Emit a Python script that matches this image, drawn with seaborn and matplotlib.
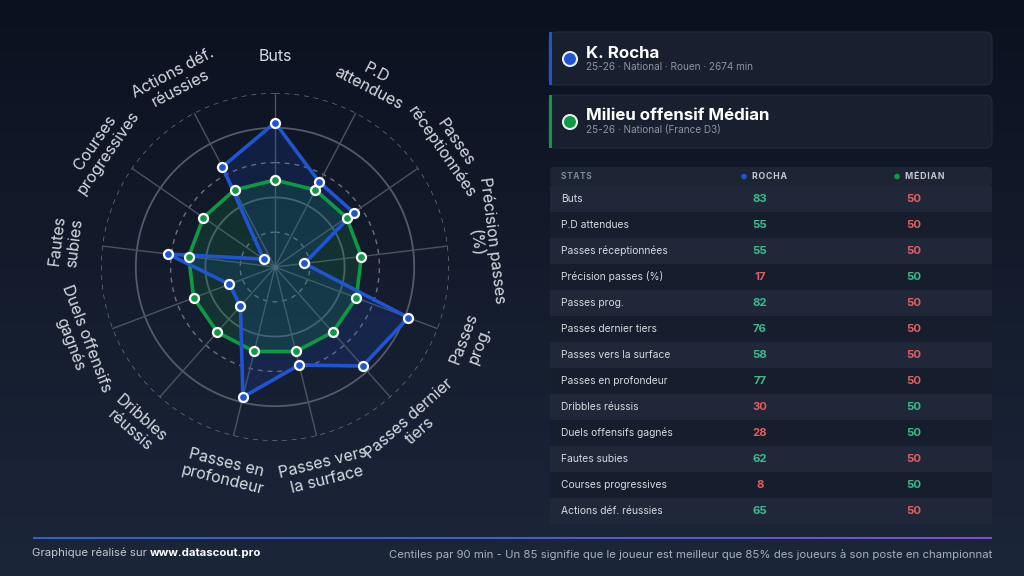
import numpy as np
import pandas as pd
import matplotlib
matplotlib.use("Agg")
import matplotlib.pyplot as plt
import seaborn as sns
from matplotlib.patches import FancyBboxPatch, Rectangle, Circle
from matplotlib.colors import LinearSegmentedColormap

# ---------------- data ----------------
categories = ["Buts", "P.D attendues", "Passes réceptionnées", "Précision passes (%)",
              "Passes prog.", "Passes dernier tiers", "Passes vers la surface",
              "Passes en profondeur", "Dribbles réussis", "Duels offensifs gagnés",
              "Fautes subies", "Courses progressives", "Actions déf. réussies"]
radar_labels = ["Buts", "P.D\nattendues", "Passes\nréceptionnées", "Précision passes\n(%)",
                "Passes\nprog.", "Passes dernier\ntiers", "Passes vers\nla surface",
                "Passes en\nprofondeur", "Dribbles\nréussis", "Duels offensifs\ngagnés",
                "Fautes\nsubies", "Courses\nprogressives", "Actions déf.\nréussies"]
rocha = [83, 55, 55, 17, 82, 76, 58, 77, 30, 28, 62, 8, 65]
median = [50, 50, 50, 50, 50, 50, 50, 50, 50, 50, 50, 50, 50]
ring_levels = [20, 40, 60, 80, 100]

player_name = "K. Rocha"
player_sub = "25-26 · National · Rouen · 2674 min"
median_name = "Milieu offensif Médian"
median_sub = "25-26 · National (France D3)"
col_headers = ["STATS", "ROCHA", "MÉDIAN"]
footer_left = "Graphique réalisé sur "
footer_link = "www.datascout.pro"
footer_right = "Centiles par 90 min - Un 85 signifie que le joueur est meilleur que 85% des joueurs à son poste en championnat"

# ---------------- style ----------------
sns.set_theme(style="dark")
plt.rcParams["font.family"] = ["Inter", "DejaVu Sans"]

BLUE = "#1f55d2"
GREEN = "#0e9a42"
GOOD = "#3dbb8a"
BAD = "#e0605f"
LABEL = "#d6dae1"


def spaced(s):
    return "\u200a".join(s)


W, H = 1024, 576
fig = plt.figure(figsize=(W / 100, H / 100), dpi=100)

bg = fig.add_axes([0, 0, 1, 1])
grad = np.linspace(0, 1, 256)[:, None]
bg_cmap = LinearSegmentedColormap.from_list("bg", ["#0b111f", "#141c2d", "#1c2639"])
bg.imshow(grad, extent=[0, W, H, 0], cmap=bg_cmap, aspect="auto", zorder=0)
bg.set_xlim(0, W)
bg.set_ylim(H, 0)
bg.axis("off")

# ---------------- radar ----------------
cx, cy, R = 275, 267, 174
ax = fig.add_axes([(cx - R) / W, 1 - (cy + R) / H, 2 * R / W, 2 * R / H], projection="polar")
ax.set_theta_zero_location("N")
ax.set_theta_direction(-1)
ax.set_axis_off()

n = len(categories)
theta = np.arange(n) * 2 * np.pi / n
tt = np.linspace(0, 2 * np.pi, 400)
for lvl in ring_levels:
    if lvl in (20, 60, 100):
        ax.plot(tt, np.full_like(tt, lvl), color="#6a7281", lw=1.0, ls=(0, (3.5, 3.5)), zorder=1)
    else:
        ax.plot(tt, np.full_like(tt, lvl), color="#525a6b", lw=1.3, zorder=1)
for th in theta:
    ax.plot([th, th], [0, 100], color="#4b5363", lw=1.0, zorder=1)
ax.plot([0], [0], "o", color="#5a6372", ms=3, zorder=2)

df = pd.DataFrame({"category": categories, "theta": theta, "rocha": rocha, "median": median})
closed = pd.concat([df, df.iloc[[0]].assign(theta=2 * np.pi)], ignore_index=True)

# fills
ax.fill(closed["theta"], closed["rocha"], color="#2050d0", alpha=0.17, zorder=3, lw=0)
ax.fill(closed["theta"], closed["median"], color="#18a34c", alpha=0.17, zorder=3, lw=0)
# lines
sns.lineplot(data=closed, x="theta", y="median", sort=False, estimator=None, ax=ax,
             color=GREEN, lw=2.6, zorder=4)
sns.lineplot(data=closed, x="theta", y="rocha", sort=False, estimator=None, ax=ax,
             color=BLUE, lw=2.6, zorder=6)
sns.scatterplot(data=df, x="theta", y="median", ax=ax, s=42, color=GREEN,
                edgecolor="white", linewidth=1.6, zorder=7, legend=False)
sns.scatterplot(data=df, x="theta", y="rocha", ax=ax, s=42, color=BLUE,
                edgecolor="white", linewidth=1.6, zorder=8, legend=False)
ax.set_ylim(0, 100)
ax.set_xlabel("")
ax.set_ylabel("")

for th, lab in zip(theta, radar_labels):
    deg = np.degrees(th)
    rot = 180 - deg if 90 < deg < 270 else -deg
    ax.text(th, 121, lab, rotation=rot, rotation_mode="anchor", ha="center", va="center",
            multialignment="center", fontsize=11.5, color=LABEL, clip_on=False,
            linespacing=1.15)

# ---------------- right panel ----------------
def card(y, color, name, sub):
    bg.add_patch(FancyBboxPatch((549, y), 443, 53, boxstyle="round,pad=0,rounding_size=7",
                                fc="#182030", ec="#232b3b", lw=0.8, zorder=2))
    bg.add_patch(Rectangle((549, y), 3, 53, fc=color, ec="none", zorder=3))
    bg.add_patch(Circle((570, y + 27), 7, fc=color, ec="#e8ebf0", lw=1.5, zorder=3))
    bg.text(586, y + 21, name, fontsize=12.2, fontweight="bold", color="white", va="center", zorder=4)
    bg.text(586, y + 35, sub, fontsize=7.2, color="#8c94a3", va="center", zorder=4)


card(32, BLUE, player_name, player_sub)
card(95, GREEN, median_name, median_sub)

# table
bg.add_patch(FancyBboxPatch((550, 167), 442, 19, boxstyle="round,pad=0,rounding_size=4",
                            fc="#1d2434", ec="none", zorder=2))
bg.text(561, 176.5, spaced(col_headers[0]), fontsize=6, fontweight="bold", color="#7f8898",
        va="center", zorder=4)
bg.add_patch(Circle((744, 176.5), 2.8, fc=BLUE, ec="none", zorder=4))
bg.text(752, 176.5, spaced(col_headers[1]), fontsize=6.3, fontweight="bold", color="#c4c9d2",
        va="center", zorder=4)
bg.add_patch(Circle((897, 176.5), 2.8, fc=GREEN, ec="none", zorder=4))
bg.text(905, 176.5, spaced(col_headers[2]), fontsize=6.3, fontweight="bold", color="#c4c9d2",
        va="center", zorder=4)

row_h = 26
for i, (cat, rv, mv) in enumerate(zip(categories, rocha, median)):
    y0 = 186 + i * row_h
    fc = "#1f2738" if i % 2 == 0 else "#161d2c"
    bg.add_patch(Rectangle((550, y0), 442, row_h, fc=fc, ec="none", zorder=2))
    yc = y0 + 13
    bg.text(561, yc, cat, fontsize=7.4, color="#d6dae1", va="center", zorder=4)
    bg.text(760, yc, str(rv), fontsize=8.2, fontweight="bold", ha="center", va="center",
            color=GOOD if rv >= mv else BAD, zorder=4)
    bg.text(914, yc, str(mv), fontsize=8.2, fontweight="bold", ha="center", va="center",
            color=GOOD if mv > rv else BAD, zorder=4)

# footer line (gradient)
lg = np.linspace(0, 1, 256)[None, :]
line_cmap = LinearSegmentedColormap.from_list("ln", ["#2c63cf", "#4a5ad3", "#7a4fd6"])
bg.imshow(lg, extent=[33, 992, 539, 537], cmap=line_cmap, aspect="auto", zorder=3)
bg.set_xlim(0, W)
bg.set_ylim(H, 0)

t1 = bg.text(32, 553, footer_left, fontsize=8.2, color="#c3c8d0", va="center", zorder=4)
fig.canvas.draw()
bb = t1.get_window_extent(renderer=fig.canvas.get_renderer())
x_link = bg.transData.inverted().transform((bb.x1, 0))[0]
bg.text(x_link, 553, footer_link, fontsize=8.2, fontweight="bold", color="white", va="center", zorder=4)
bg.text(992, 555, footer_right, fontsize=8.2, color="#a9b0bc", va="center", ha="right", zorder=4)

bg.set_xlim(0, W)
bg.set_ylim(H, 0)

fig.savefig("out.png", dpi=100, facecolor="#0c1220")
